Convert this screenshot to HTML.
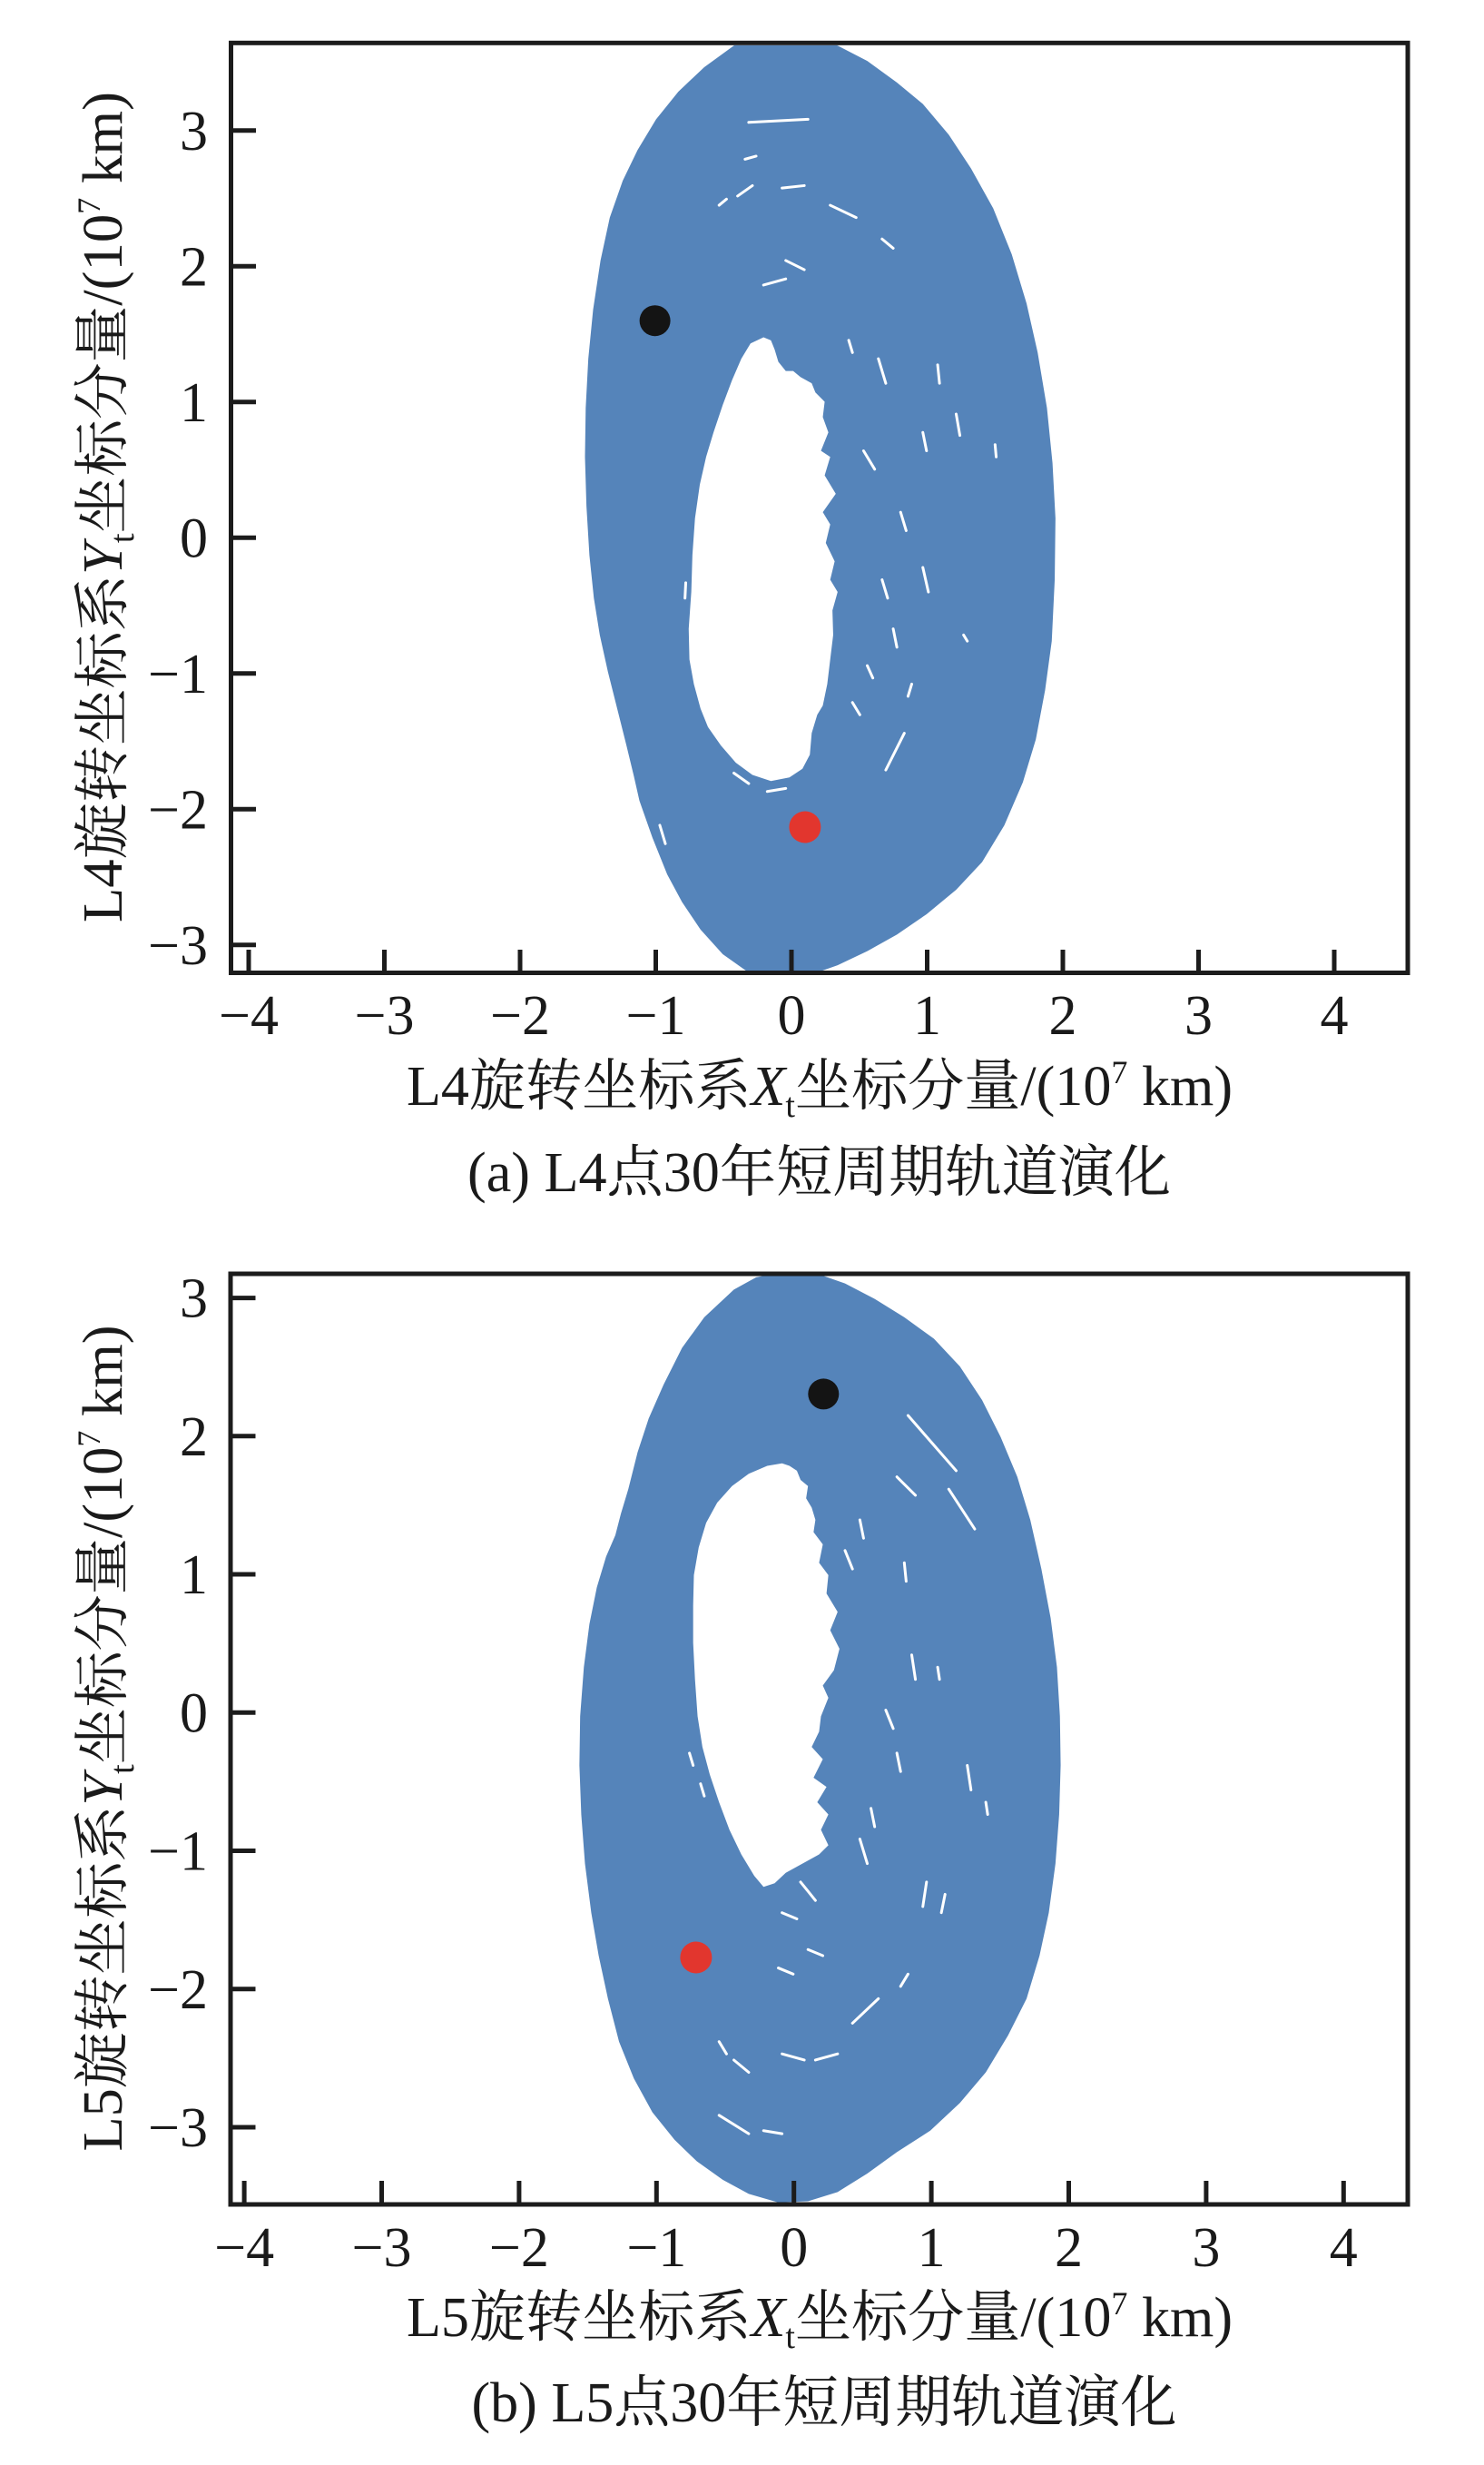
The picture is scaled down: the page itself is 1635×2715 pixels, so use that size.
<!DOCTYPE html>
<html><head><meta charset="utf-8"><style>
html,body{margin:0;padding:0;background:#fff;}
svg{display:block;}
text{font-family:"Liberation Serif","Noto Serif CJK SC",serif;fill:#1a1a1a;}
</style></head><body>
<svg width="1635" height="2715" viewBox="0 0 1635 2715" xmlns="http://www.w3.org/2000/svg">
<rect width="1635" height="2715" fill="#fff"/>
<defs>
<clipPath id="ca"><rect x="257" y="50" width="1291.5" height="1019"/></clipPath>
<clipPath id="cb"><rect x="256.5" y="1405.5" width="1292" height="1020"/></clipPath>
</defs>

<!-- ============ PLOT A ============ -->
<g clip-path="url(#ca)">
<g transform="translate(580,30) scale(0.408163,0.676133)">
<path fill="#5584ba" fill-rule="evenodd" d="M560,30 L600,18 L680,10 L760,14 L840,30 L920,55 L1000,90 L1070,125 L1140,175 L1200,230 L1260,295 L1310,370 L1350,450 L1380,530 L1405,620 L1420,710 L1428,800 L1426,900 L1418,1000 L1400,1080 L1375,1160 L1340,1230 L1290,1300 L1230,1360 L1160,1405 L1080,1445 L1000,1478 L920,1505 L840,1528 L760,1545 L680,1550 L600,1540 L530,1510 L470,1470 L420,1425 L380,1380 L340,1320 L305,1260 L290,1220 L270,1170 L245,1110 L220,1050 L198,990 L182,930 L170,860 L162,780 L158,700 L160,620 L167,540 L180,460 L200,380 L225,310 L260,250 L300,200 L350,150 L410,105 L480,65 Z
M640,505 L605,515 L580,540 L555,575 L530,615 L505,660 L485,700 L468,745 L455,800 L448,860 L445,920 L438,980 L440,1030 L452,1070 L470,1110 L490,1140 L525,1170 L565,1198 L610,1218 L660,1228 L710,1222 L745,1208 L765,1185 L770,1150 L785,1120 L800,1105 L812,1070 L820,1030 L828,990 L826,950 L840,920 L820,900 L832,870 L808,840 L820,810 L800,790 L835,760 L805,730 L820,700 L795,690 L815,660 L800,635 L805,610 L780,595 L770,580 L740,570 L720,560 L700,560 L680,545 L670,525 L660,510 Z"/>
<g stroke="#fff" stroke-width="3" vector-effect="non-scaling-stroke" fill="none" stroke-linecap="round">
<path vector-effect="non-scaling-stroke" d="M600,155 L760,150 M590,215 L620,210 M570,275 L610,258 M690,262 L750,258 M820,290 L890,310 M960,345 L990,360 M700,380 L750,395 M870,510 L880,530 M950,540 L970,580 M1160,630 L1170,665 M1110,550 L1115,580 M1265,680 L1268,700 M1070,660 L1080,690 M910,690 L940,720 M1010,790 L1025,820 M1070,880 L1085,920 M960,900 L975,930 M990,980 L1000,1010 M1020,1150 L970,1210 M700,1240 L650,1245 M600,1232 L560,1215 M360,1300 L375,1330 M430,905 L428,930 M1040,1070 L1030,1090 M1180,990 L1190,1000 M920,1040 L935,1060 M880,1100 L900,1120 M520,290 L540,280 M640,420 L700,410"/>
</g>
</g>
</g>
<circle cx="721.6" cy="353.2" r="17" fill="#141414"/>
<circle cx="886.9" cy="911" r="17.5" fill="#e2362e"/>

<!-- axes a -->
<g stroke="#1c1c1c" stroke-width="5" fill="none">
<rect x="254.5" y="47.3" width="1296.5" height="1024.2"/>
<path d="M254.5,143.8 H282 M254.5,293.3 H282 M254.5,442.8 H282 M254.5,592.3 H282 M254.5,741.8 H282 M254.5,891.3 H282 M254.5,1040.8 H282"/>
<path d="M274,1071.5 V1046 M423.5,1071.5 V1046 M573,1071.5 V1046 M722.5,1071.5 V1046 M872,1071.5 V1046 M1021.5,1071.5 V1046 M1171,1071.5 V1046 M1320.5,1071.5 V1046 M1470,1071.5 V1046"/>
</g>
<g font-size="62" text-anchor="end">
<text x="229" y="164.8">3</text>
<text x="229" y="314.3">2</text>
<text x="229" y="463.8">1</text>
<text x="229" y="613.3">0</text>
<text x="229" y="762.8">−1</text>
<text x="229" y="912.3">−2</text>
<text x="229" y="1061.8">−3</text>
</g>
<g font-size="62" text-anchor="middle">
<text x="274" y="1139">−4</text>
<text x="423.5" y="1139">−3</text>
<text x="573" y="1139">−2</text>
<text x="722.5" y="1139">−1</text>
<text x="872" y="1139">0</text>
<text x="1021.5" y="1139">1</text>
<text x="1171" y="1139">2</text>
<text x="1320.5" y="1139">3</text>
<text x="1470" y="1139">4</text>
</g>
<text x="903" y="1217" font-size="62" text-anchor="middle" textLength="910" lengthAdjust="spacingAndGlyphs">L4旋转坐标系<tspan font-style="italic">X</tspan><tspan font-size="38" dy="13">t</tspan><tspan dy="-13">坐标分量/(10</tspan><tspan font-size="36" dy="-24">7</tspan><tspan dy="24"> km)</tspan></text>
<text transform="translate(134,558.5) rotate(-90)" font-size="62" text-anchor="middle" textLength="915" lengthAdjust="spacingAndGlyphs">L4旋转坐标系<tspan font-style="italic">Y</tspan><tspan font-size="38" dy="13">t</tspan><tspan dy="-13">坐标分量/(10</tspan><tspan font-size="36" dy="-24">7</tspan><tspan dy="24"> km)</tspan></text>
<text x="902.5" y="1312" font-size="62" text-anchor="middle" textLength="775" lengthAdjust="spacingAndGlyphs">(a) L4点30年短周期轨道演化</text>

<!-- ============ PLOT B ============ -->
<g clip-path="url(#cb)">
<g transform="translate(580,1390) scale(0.408163,0.676133)">
<path fill="#5584ba" fill-rule="evenodd" d="M560,45 L620,25 L700,15 L780,18 L860,35 L940,60 L1020,90 L1100,125 L1170,170 L1230,225 L1280,285 L1325,350 L1360,420 L1390,500 L1415,580 L1432,660 L1440,740 L1442,820 L1438,900 L1428,980 L1410,1060 L1385,1130 L1350,1200 L1300,1260 L1240,1320 L1170,1370 L1090,1415 L1000,1450 L920,1485 L840,1515 L760,1530 L680,1532 L600,1518 L530,1495 L460,1465 L400,1430 L340,1385 L290,1330 L250,1270 L220,1200 L195,1130 L175,1060 L158,980 L148,900 L143,820 L145,740 L155,660 L170,590 L190,530 L215,480 L240,445 L255,410 L275,370 L300,310 L330,255 L370,200 L420,140 L480,90 Z
M690,328 L650,332 L600,345 L555,365 L515,392 L485,425 L465,465 L452,510 L450,560 L450,620 L455,680 L462,740 L475,790 L495,835 L520,880 L548,925 L580,965 L615,1000 L640,1018 L670,1012 L700,995 L730,985 L760,975 L790,965 L815,950 L795,925 L815,900 L785,880 L810,855 L775,840 L800,810 L770,790 L790,765 L795,740 L815,710 L800,690 L830,665 L845,630 L820,600 L840,570 L810,540 L815,510 L790,490 L800,460 L775,440 L780,420 L770,400 L755,385 L760,365 L740,355 L730,340 L710,332 Z"/>
<g stroke="#fff" stroke-width="3" fill="none" stroke-linecap="round">
<path vector-effect="non-scaling-stroke" d="M1030,250 L1160,340 M1140,370 L1210,435 M1000,350 L1050,380 M900,420 L910,450 M860,470 L880,500 M1020,490 L1025,520 M1110,660 L1115,680 M1040,640 L1050,680 M970,730 L990,760 M1000,800 L1010,830 M930,890 L940,920 M900,940 L920,980 M1080,1010 L1070,1050 M1130,1030 L1120,1060 M880,1240 L950,1200 M780,1300 L840,1290 M690,1290 L750,1300 M520,1390 L600,1420 M640,1415 L690,1420 M520,1270 L540,1290 M560,1300 L600,1320 M680,1150 L720,1160 M440,800 L450,820 M470,850 L480,870 M740,1010 L780,1040 M690,1060 L730,1070 M760,1120 L800,1130 M1190,820 L1200,860 M1240,880 L1245,900 M1010,1180 L1030,1160"/>
</g>
</g>
</g>
<circle cx="907.3" cy="1535.4" r="17" fill="#141414"/>
<circle cx="766.9" cy="2156" r="17.5" fill="#e2362e"/>

<!-- axes b -->
<g stroke="#1c1c1c" stroke-width="5" fill="none">
<rect x="254" y="1403" width="1297" height="1025"/>
<path d="M254,1429.6 H281.5 M254,1581.8 H281.5 M254,1734 H281.5 M254,1886.3 H281.5 M254,2038.5 H281.5 M254,2190.8 H281.5 M254,2343 H281.5"/>
<path d="M269.1,2428 V2402 M420.5,2428 V2402 M571.9,2428 V2402 M723.3,2428 V2402 M874.7,2428 V2402 M1026.1,2428 V2402 M1177.5,2428 V2402 M1328.9,2428 V2402 M1480.3,2428 V2402"/>
</g>
<g font-size="62" text-anchor="end">
<text x="229" y="1450.6">3</text>
<text x="229" y="1602.8">2</text>
<text x="229" y="1755">1</text>
<text x="229" y="1907.3">0</text>
<text x="229" y="2059.5">−1</text>
<text x="229" y="2211.8">−2</text>
<text x="229" y="2364">−3</text>
</g>
<g font-size="62" text-anchor="middle">
<text x="269.1" y="2496">−4</text>
<text x="420.5" y="2496">−3</text>
<text x="571.9" y="2496">−2</text>
<text x="723.3" y="2496">−1</text>
<text x="874.7" y="2496">0</text>
<text x="1026.1" y="2496">1</text>
<text x="1177.5" y="2496">2</text>
<text x="1328.9" y="2496">3</text>
<text x="1480.3" y="2496">4</text>
</g>
<text x="903" y="2573" font-size="62" text-anchor="middle" textLength="910" lengthAdjust="spacingAndGlyphs">L5旋转坐标系<tspan font-style="italic">X</tspan><tspan font-size="38" dy="13">t</tspan><tspan dy="-13">坐标分量/(10</tspan><tspan font-size="36" dy="-24">7</tspan><tspan dy="24"> km)</tspan></text>
<text transform="translate(134,1914.5) rotate(-90)" font-size="62" text-anchor="middle" textLength="910" lengthAdjust="spacingAndGlyphs">L5旋转坐标系<tspan font-style="italic">Y</tspan><tspan font-size="38" dy="13">t</tspan><tspan dy="-13">坐标分量/(10</tspan><tspan font-size="36" dy="-24">7</tspan><tspan dy="24"> km)</tspan></text>
<text x="908" y="2667" font-size="62" text-anchor="middle" textLength="777" lengthAdjust="spacingAndGlyphs">(b) L5点30年短周期轨道演化</text>
</svg>
</body></html>
